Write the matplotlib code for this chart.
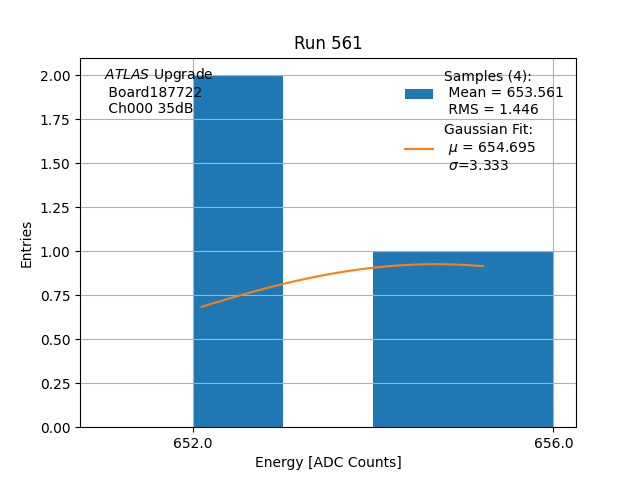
import numpy as np
import matplotlib
matplotlib.use("Agg")
import matplotlib.pyplot as plt

# histogram
bin_edges = [651, 652, 653, 654, 655, 656]
counts = [0, 2, 0, 1, 1]

# gaussian fit parameters
mu = 654.695
sigma = 3.333
amp = 0.926
fit_range = (652.1, 655.22)

n_samples = 4
mean = 653.561
rms = 1.446

fig, ax = plt.subplots(figsize=(6.4, 4.8), dpi=100)

centers = [(a + b) / 2 for a, b in zip(bin_edges[:-1], bin_edges[1:])]
ax.hist(centers, bins=bin_edges, weights=counts, color="#1f77b4",
        label=f"Samples ({n_samples}):\n Mean = {mean:.3f}\n RMS = {rms:.3f}")

xs = np.linspace(fit_range[0], fit_range[1], 100)
ys = amp * np.exp(-(xs - mu) ** 2 / (2 * sigma ** 2))
ax.plot(xs, ys, color="#ff7f0e",
        label=f"Gaussian Fit:\n $\\mu$ = {mu:.3f}\n $\\sigma$={sigma:.3f}")

ax.set_xticks([652.0, 656.0])
ax.set_xticklabels(["652.0", "656.0"])
ax.set_xlabel("Energy [ADC Counts]")
ax.set_ylabel("Entries")
ax.set_title("Run 561")
ax.grid(True)

ax.text(0.048, 0.978, "$\\it{ATLAS}$ Upgrade\n Board187722\n Ch000 35dB",
        transform=ax.transAxes, va="top", ha="left")
ax.legend(loc="upper right", frameon=False)

fig.savefig("out.png")
